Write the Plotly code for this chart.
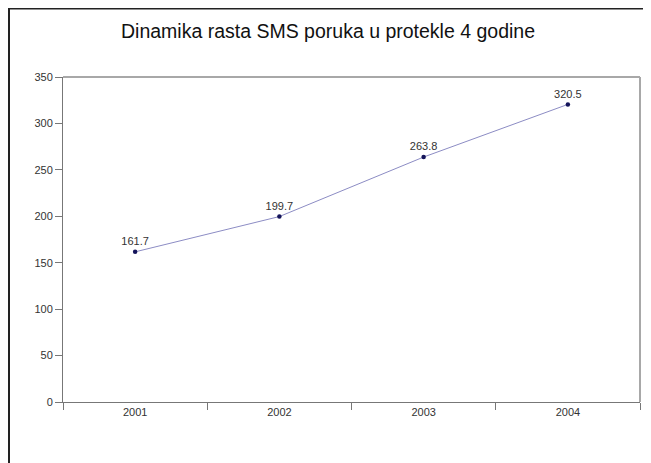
import plotly.graph_objects as go

years = ["2001", "2002", "2003", "2004"]
sms = [161.7, 199.7, 263.8, 320.5]
sms_labels = ["161.7", "199.7", "263.8", "320.5"]
y_ticks = [0, 50, 100, 150, 200, 250, 300, 350]

fig = go.Figure()
fig.add_trace(go.Scatter(
    x=years, y=sms, mode="lines+markers+text",
    text=sms_labels, textposition="top center",
    textfont=dict(family="Liberation Sans, Arial", size=11, color="#333333"),
    line=dict(color="#8c8cc4", width=1),
    marker=dict(color="#14145a", size=4.5),
    cliponaxis=False,
    showlegend=False,
))

# page is offset by the 8px body margin; figure coordinates below are page - 8
OFF = 8
W, H = 651 - OFF, 463 - OFF
L, T = 63 - OFF, 77 - OFF
R, B = 651 - 640, 463 - 402
pw, ph = W - L - R, H - T - B

def px(x):
    return (x - OFF - L) / pw

def py(y):
    return (H - B - (y - OFF)) / ph

fig.update_layout(
    width=W, height=H,
    margin=dict(l=L, r=R, t=T, b=B),
    paper_bgcolor="white", plot_bgcolor="white",
    title=dict(text="Dinamika rasta SMS poruka u protekle 4 godine",
               x=(328 - OFF) / W, xanchor="center", y=1 - (31 - OFF) / H, yanchor="middle",
               font=dict(family="Liberation Sans, Arial", size=19.5, color="#111111")),
    font=dict(family="Liberation Sans, Arial", size=11, color="#333333"),
    xaxis=dict(type="category", range=[-0.5, 3.5], tickson="boundaries",
               ticks="outside", ticklen=7, tickcolor="#777777", tickwidth=1,
               showline=True, linecolor="#777777", linewidth=1,
               showgrid=False, zeroline=False, fixedrange=True,
               tickfont=dict(size=11, color="#333333")),
    yaxis=dict(range=[0, 350], tickvals=y_ticks,
               ticks="outside", ticklen=7, tickcolor="#777777", tickwidth=1,
               showline=True, linecolor="#777777", linewidth=1,
               showgrid=False, zeroline=False, fixedrange=True,
               tickfont=dict(size=11, color="#333333")),
    shapes=[
        # plot area top / right border
        dict(type="line", xref="paper", yref="paper", x0=0, x1=1, y0=1, y1=1,
             line=dict(color="#a8a8a8", width=2)),
        dict(type="line", xref="paper", yref="paper", x0=1, x1=1, y0=0, y1=1,
             line=dict(color="#a8a8a8", width=2)),
        # outer frame
        dict(type="line", xref="paper", yref="paper", x0=px(8), x1=px(651), y0=py(8.5), y1=py(8.5),
             line=dict(color="#222222", width=2)),
        dict(type="line", xref="paper", yref="paper", x0=px(9), x1=px(9), y0=py(8), y1=py(470),
             line=dict(color="#222222", width=2)),
        dict(type="line", xref="paper", yref="paper", x0=px(649), x1=px(649), y0=py(8), y1=py(470),
             line=dict(color="#bbbbbb", width=1.5)),
    ],
)

fig.write_html("out.html")
